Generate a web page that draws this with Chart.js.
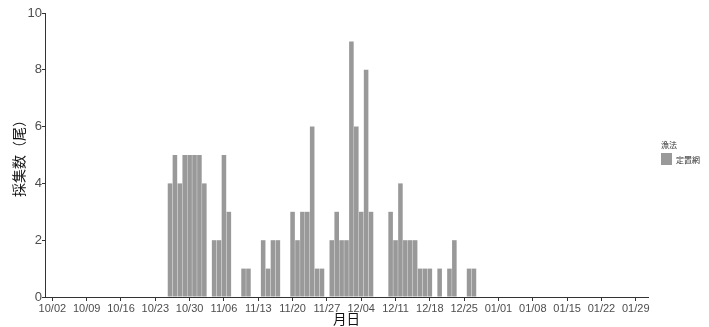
<!DOCTYPE html>
<html>
<head>
<meta charset="utf-8">
<script src="https://cdn.jsdelivr.net/npm/chart.js@4.4.1/dist/chart.umd.min.js"></script>
<style>
html,body{margin:0;padding:0;background:#ffffff;}
#wrap{width:709px;height:327px;position:relative;}
</style>
</head>
<body>
<div id="wrap"><canvas id="c" width="709" height="327"></canvas></div>
<script>
// Daily counts, 10/01 .. 01/31
const octCounts = [0,0,0,0,0,0,0,0,0,0, 0,0,0,0,0,0,0,0,0,0, 0,0,0,0,0,4,5,4,5,5,5];
const novCounts = [5,4,0,2,2,5,3,0,0,1, 1,0,0,2,1,2,2,0,0,3, 2,3,3,6,1,1,0,2,3,2];
const decCounts = [2,9,6,3,8,3,0,0,0,3, 2,4,2,2,2,1,1,1,0,1, 0,1,2,0,0,1,1,0,0,0,0];
const janCounts = [0,0,0,0,0,0,0,0,0,0, 0,0,0,0,0,0,0,0,0,0, 0,0,0,0,0,0,0,0,0,0,0];
const months = ['10','11','12','01'];
const monthDays = [31,30,31,31];
const tickLabels = ['10/02','10/09','10/16','10/23','10/30','11/06','11/13','11/20','11/27','12/04','12/11','12/18','12/25','01/01','01/08','01/15','01/22','01/29'];
const yTicks = [0,2,4,6,8,10];
const seriesName = '定置網';
const legendTitle = '漁法';

const categories = [];
months.forEach((m, i) => {
  for (let d = 1; d <= monthDays[i]; d++) categories.push(m + '/' + String(d).padStart(2, '0'));
});
const values = [].concat(octCounts, novCounts, decCounts, janCounts);

const FONT = '"Liberation Sans", Arial, "Noto Sans CJK JP", sans-serif';
const CJK = '"Noto Sans CJK JP", "Liberation Sans", sans-serif';
const axisColor = '#333333';
const barColor = '#999999';

// Legend drawn to the right of the plot area
const sideLegend = {
  id: 'sideLegend',
  afterDraw(chart) {
    const ctx = chart.ctx;
    const x0 = chart.chartArea.right + 13;
    ctx.save();
    ctx.fillStyle = '#333333';
    ctx.font = '8px ' + CJK;
    ctx.textAlign = 'left';
    ctx.textBaseline = 'middle';
    ctx.fillText(legendTitle, x0, 145);
    ctx.fillStyle = chart.data.datasets[0].backgroundColor;
    ctx.fillRect(x0, 153, 11, 12);
    ctx.fillStyle = '#333333';
    ctx.fillText(chart.data.datasets[0].label, x0 + 15, 159.5);
    ctx.restore();
  }
};

new Chart(document.getElementById('c'), {
  type: 'bar',
  data: {
    labels: categories,
    datasets: [{
      label: seriesName,
      data: values,
      backgroundColor: barColor,
      borderWidth: 0,
      barPercentage: 0.93,
      categoryPercentage: 1.0
    }]
  },
  plugins: [sideLegend],
  options: {
    responsive: false,
    animation: false,
    devicePixelRatio: 1,
    layout: { padding: { top: 13, left: 0, right: 61, bottom: 0 } },
    plugins: {
      tooltip: { enabled: false },
      legend: { display: false }
    },
    scales: {
      x: {
        type: 'category',
        offset: true,
        grid: { display: true, drawOnChartArea: false, drawTicks: true, tickLength: 4, offset: false, color: axisColor },
        border: { display: true, color: axisColor, width: 1 },
        ticks: { autoSkip: false, maxRotation: 0, minRotation: 0, padding: 1, color: '#4d4d4d', font: { family: FONT, size: 11 } },
        afterBuildTicks: (s) => { s.ticks = s.ticks.filter(t => tickLabels.includes(categories[t.value])); },
        title: { display: true, text: '月日', color: '#111', font: { family: CJK, size: 13.5, lineHeight: 1.2 }, padding: { top: 0, bottom: 0 } },
        afterFit: (s) => { s.height = 30; }
      },
      y: {
        min: 0,
        max: 10,
        afterBuildTicks: (s) => { s.ticks = yTicks.map(v => ({ value: v })); },
        grid: { display: true, drawOnChartArea: false, drawTicks: true, tickLength: 3, color: axisColor },
        border: { display: true, color: axisColor, width: 1 },
        ticks: { color: '#4d4d4d', padding: 0, font: { family: FONT, size: 13 } },
        title: { display: true, text: '採集数（尾）', color: '#111', font: { family: CJK, size: 14, lineHeight: 1.2 }, padding: { top: 10, bottom: 0 } },
        afterFit: (s) => { s.width = 45; }
      }
    }
  }
});
</script>
</body>
</html>
